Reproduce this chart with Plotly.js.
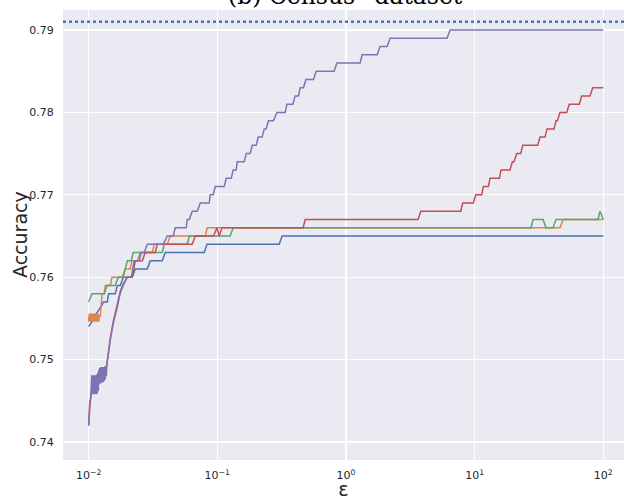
<!DOCTYPE html>
<html><head><meta charset="utf-8">
<script src="https://cdn.plot.ly/plotly-3.0.1.min.js"></script>
<style>html,body{margin:0;padding:0;background:#fff}#chart{width:624px;height:500px}</style>
</head><body><div id="chart"></div>
<script>
// ---- data (epsilon, accuracy) ----
const baselineAcc = 0.791;

const blueEps = [0.01,0.01063,0.01127,0.01196,0.01271,0.01300,0.013973,0.01430,0.01612,0.01671,0.01763,0.01860,0.02185,0.02305,0.02857,0.03015,0.03735,0.03941,0.07918,0.08310,0.3028,0.3194,100];
const blueAcc = [0.754,0.7546,0.7554,0.756,0.7566,0.757,0.757,0.758,0.758,0.759,0.759,0.760,0.760,0.761,0.761,0.762,0.762,0.763,0.763,0.764,0.764,0.765,0.765];

const orangeEps = [0.01,0.010036,0.010126,0.010217,0.01031,0.010401,0.010495,0.010589,0.010684,0.010780,0.010877,0.010975,0.011073,0.011174,0.011273,0.011375,0.011477,0.011580,0.011684,0.011789,0.011895,0.012002,0.012110,0.012328,0.01271,0.01324,0.01348,0.01474,0.01519,0.01860,0.01928,0.02108,0.02174,0.02389,0.02521,0.03124,0.03238,0.04085,0.04311,0.08061,0.08353,46.10,48.64,100];
const orangeAcc = [0.7552,0.7546,0.7556,0.7546,0.7556,0.7546,0.7556,0.7546,0.7556,0.7546,0.7556,0.7546,0.7556,0.7546,0.7556,0.7546,0.7556,0.7546,0.7556,0.7546,0.7556,0.7546,0.7554,0.7552,0.758,0.758,0.759,0.759,0.760,0.760,0.761,0.761,0.762,0.762,0.763,0.763,0.764,0.764,0.765,0.765,0.766,0.766,0.767,0.767];

const greenEps = [0.01,0.01063,0.01324,0.01390,0.01612,0.01701,0.01827,0.01928,0.01998,0.02146,0.02224,0.03735,0.03871,0.05843,0.06055,0.1260,0.1330,27.44,28.44,34.02,35.89,40.67,42.92,90.98,94.28,100];
const greenAcc = [0.757,0.758,0.758,0.759,0.759,0.760,0.760,0.761,0.762,0.762,0.763,0.763,0.764,0.764,0.765,0.765,0.766,0.766,0.767,0.767,0.766,0.766,0.767,0.767,0.768,0.767];

const redEps = [0.01,0.01031,0.010684,0.01324,0.01390,0.01474,0.01555,0.01671,0.01763,0.01860,0.01998,0.02185,0.02305,0.02613,0.02757,0.03296,0.03416,0.06388,0.06740,0.09352,0.09938,0.1035,0.10866,0.4652,0.4821,3.635,3.817,7.805,8.091,9.779,10.21,11.36,11.69,12.79,13.18,15.57,16.05,18.85,19.65,20.25,21.26,22.83,23.66,30.94,32.24,35.26,36.54,41.41,42.92,44.08,46.10,51.96,54.44,65.11,67.95,78.83,82.74,100];
const redAcc = [0.742,0.745,0.7465,0.748,0.7495,0.7526,0.7546,0.7566,0.7583,0.7592,0.760,0.760,0.762,0.762,0.763,0.763,0.764,0.764,0.765,0.765,0.766,0.765,0.766,0.766,0.767,0.767,0.768,0.768,0.769,0.769,0.770,0.770,0.771,0.771,0.772,0.772,0.773,0.773,0.774,0.774,0.775,0.775,0.776,0.776,0.777,0.777,0.778,0.778,0.779,0.779,0.780,0.780,0.781,0.781,0.782,0.782,0.783,0.783];

const purpleEps = [0.01,0.010181,0.010401,0.010495,0.010589,0.010684,0.010780,0.010877,0.010975,0.011073,0.011174,0.011273,0.011375,0.011477,0.011580,0.011684,0.011789,0.011895,0.012002,0.012110,0.012218,0.012328,0.012439,0.012551,0.012663,0.012777,0.012892,0.013008,0.013125,0.013243,0.013361,0.013482,0.013603,0.013725,0.01390,0.01474,0.01555,0.01671,0.01763,0.01860,0.01998,0.02146,0.02264,0.024765,0.025667,0.027079,0.02857,0.03802,0.04085,0.04549,0.04714,0.05739,0.05843,0.06055,0.06388,0.06989,0.07373,0.08659,0.08815,0.09300,0.09640,0.1132,0.1173,0.1283,0.1330,0.1403,0.1429,0.1620,0.1679,0.1803,0.1868,0.2007,0.2080,0.2234,0.2316,0.2400,0.2501,0.2735,0.2906,0.3371,0.3475,0.3869,0.4031,0.4276,0.4407,0.4677,0.4884,0.5592,0.5867,0.8096,0.8498,1.289,1.336,1.747,1.843,2.089,2.204,6.109,6.446,100];
const purpleAcc = [0.742,0.7447,0.7455,0.7465,0.7481,0.7459,0.7481,0.7458,0.7481,0.7458,0.7481,0.7458,0.7481,0.7458,0.7482,0.7459,0.7484,0.7462,0.7488,0.7470,0.7490,0.7471,0.7491,0.7472,0.7491,0.7472,0.7491,0.7473,0.7491,0.7474,0.7492,0.7476,0.7492,0.7480,0.7496,0.7524,0.7544,0.7564,0.7581,0.7590,0.760,0.760,0.762,0.762,0.763,0.763,0.764,0.764,0.765,0.765,0.766,0.766,0.767,0.767,0.768,0.768,0.769,0.769,0.770,0.770,0.771,0.771,0.772,0.772,0.773,0.773,0.774,0.774,0.775,0.775,0.776,0.776,0.777,0.777,0.778,0.778,0.779,0.779,0.780,0.780,0.781,0.781,0.782,0.782,0.783,0.783,0.784,0.784,0.785,0.785,0.786,0.786,0.787,0.787,0.788,0.788,0.789,0.789,0.790,0.790];

const xTickVals = [0.01, 0.1, 1, 10, 100];
const xTickText = ['10<sup>−2</sup>', '10<sup>−1</sup>', '10<sup>0</sup>', '10<sup>1</sup>', '10<sup>2</sup>'];
const yTickVals = [0.74, 0.75, 0.76, 0.77, 0.78, 0.79];
const yTickText = ['0.74', '0.75', '0.76', '0.77', '0.78', '0.79'];
const titleText = '(b) Census* dataset';
const yTitleText = 'Accuracy';
const xTitleText = 'ε';

const seriesList = [
  {x: blueEps, y: blueAcc, color: '#4C72B0'},
  {x: orangeEps, y: orangeAcc, color: '#DD8452'},
  {x: greenEps, y: greenAcc, color: '#55A868'},
  {x: redEps, y: redAcc, color: '#C44E52'},
  {x: purpleEps, y: purpleAcc, color: '#8172B3'}
];

const traces = seriesList.map(s => ({
  type: 'scatter', mode: 'lines', x: s.x, y: s.y,
  line: {color: s.color, width: 1.5}, hoverinfo: 'skip'
}));

const layout = {
  width: 624, height: 500,
  margin: {l: 63, r: 0, t: 10, b: 40},
  paper_bgcolor: '#ffffff', plot_bgcolor: '#EAEAF2',
  showlegend: false,
  font: {family: 'DejaVu Sans', color: '#262626'},
  xaxis: {type: 'log', range: [-2.199, 2.161], tickvals: xTickVals, ticktext: xTickText,
          showgrid: true, gridcolor: '#ffffff', gridwidth: 1.2, zeroline: false, showline: false,
          ticks: 'outside', ticklen: 5, tickcolor: 'rgba(0,0,0,0)',
          tickfont: {size: 11, color: '#262626'},
          title: {text: xTitleText, font: {size: 19, color: '#262626'}, standoff: 4}},
  yaxis: {range: [0.737816, 0.792427], tickvals: yTickVals, ticktext: yTickText,
          showgrid: true, gridcolor: '#ffffff', gridwidth: 1.2, zeroline: false, showline: false,
          ticks: 'outside', ticklen: 6, tickcolor: 'rgba(0,0,0,0)',
          tickfont: {size: 11, color: '#262626'}},
  annotations: [
    {text: titleText, xref: 'paper', yref: 'paper', x: 0.5, y: 1, xanchor: 'center', yanchor: 'bottom',
     xshift: 2, yshift: -2, showarrow: false, font: {family: 'DejaVu Serif', size: 23.5, color: '#000'}},
    {text: yTitleText, xref: 'paper', yref: 'paper', x: 0, y: 0.5, xanchor: 'center', yanchor: 'middle',
     xshift: -43, textangle: -90, showarrow: false, font: {family: 'DejaVu Sans', size: 19, color: '#262626'}}
  ],
  shapes: [{type: 'line', xref: 'paper', x0: 0, x1: 1, yref: 'y', y0: baselineAcc, y1: baselineAcc,
            line: {color: '#4C72B0', width: 2.5, dash: 'dot'}, layer: 'above'}]
};

Plotly.newPlot('chart', traces, layout, {displayModeBar: false, staticPlot: true});
</script>
</body></html>
